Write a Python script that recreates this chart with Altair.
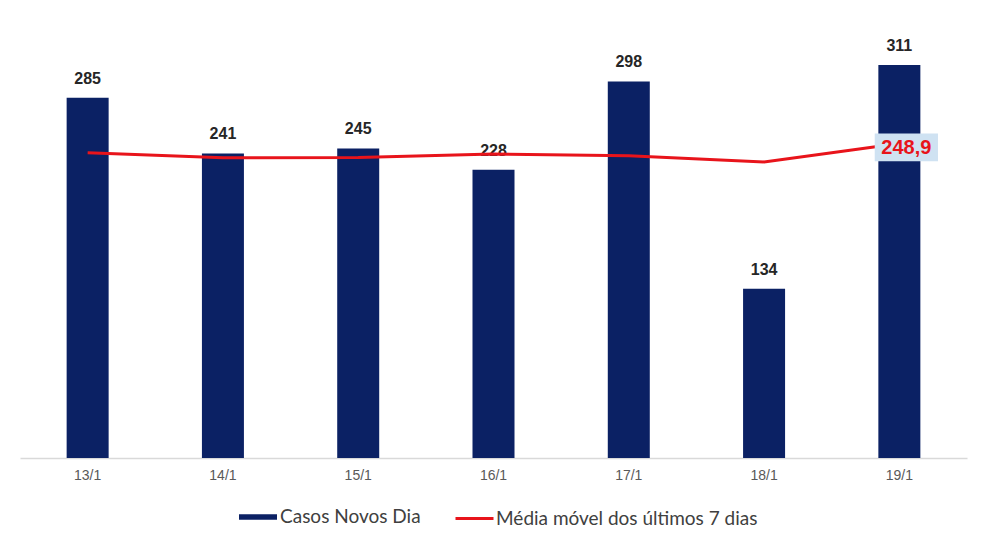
import altair as alt
import pandas as pd

dates = ["13/1", "14/1", "15/1", "16/1", "17/1", "18/1", "19/1"]
casos = [285, 241, 245, 228, 298, 134, 311]
media = [241.5, 237.6, 237.7, 240.5, 239.2, 234.3, 248.9]
media_label = ["", "", "", "", "", "", "248,9"]

serie_bar = "Casos Novos Dia"
serie_line = "Média móvel dos últimos 7 dias"

NAVY = "#0b2164"
RED = "#e8141b"

df = pd.DataFrame({
    "dia": dates,
    "casos": casos,
    "media": media,
    "media_label": media_label,
    "s1": [serie_bar] * len(dates),
    "s2": [serie_line] * len(dates),
})
df_last = df[df["media_label"] != ""]

x = alt.X("dia:N", sort=dates,
          scale=alt.Scale(paddingInner=0, paddingOuter=0),
          axis=alt.Axis(title=None, labelAngle=0, ticks=False, labelPadding=10,
                        labelColor="#595959", labelFontSize=14, labelFont="Liberation Sans",
                        domainColor="#d9d9d9", domainWidth=1.5))
yscale = alt.Scale(domain=[0, 345], nice=False)

base = alt.Chart(df)

bars = base.mark_bar(size=42).encode(
    x=x,
    y=alt.Y("casos:Q", scale=yscale, axis=None),
    fill=alt.Fill("s1:N", scale=alt.Scale(domain=[serie_bar], range=[NAVY]),
                  legend=alt.Legend(title=None, orient="none", legendX=219, legendY=476,
                                    symbolType="M-1,-0.14H1V0.14H-1Z", symbolSize=1444,
                                    symbolStrokeWidth=0, labelFontSize=19, labelFont="Lato",
                                    labelColor="#404040", labelOffset=3, labelLimit=400)),
)

bar_text = base.mark_text(dy=-11, baseline="bottom", fontSize=16, fontWeight="bold",
                          font="Liberation Sans", color="#262626").encode(
    x=x, y=alt.Y("casos:Q", scale=yscale), text="casos:Q")

line = base.mark_line(strokeWidth=3).encode(
    x=x,
    y=alt.Y("media:Q", scale=yscale),
    stroke=alt.Stroke("s2:N", scale=alt.Scale(domain=[serie_line], range=[RED]),
                      legend=alt.Legend(title=None, orient="none", legendX=434, legendY=476,
                                        symbolType="stroke", symbolSize=1444,
                                        symbolStrokeWidth=3, labelFontSize=19, labelFont="Lato",
                                        labelColor="#404040", labelOffset=1, labelLimit=400)),
)

box = alt.Chart(df_last).mark_point(shape="M-1,-0.44H1V0.44H-1Z", size=4000, filled=True,
                                    opacity=1, color="#cfe2f2", xOffset=7, yOffset=4).encode(
    x=x, y=alt.Y("media:Q", scale=yscale))

last_text = alt.Chart(df_last).mark_text(fontSize=20, fontWeight="bold", font="Liberation Sans",
                                         color=RED, dx=7, dy=5).encode(
    x=x, y=alt.Y("media:Q", scale=yscale), text="media_label:N")

chart = alt.layer(bars, bar_text, line, box, last_text).properties(
    width=947, height=436,
    autosize=alt.AutoSizeParams(type="none"),
    padding={"left": 12, "top": 14, "right": 6, "bottom": 76},
).configure_view(stroke=None).configure_axis(grid=False)

chart.save("out.html", embed_options={"renderer": "svg", "actions": False})
